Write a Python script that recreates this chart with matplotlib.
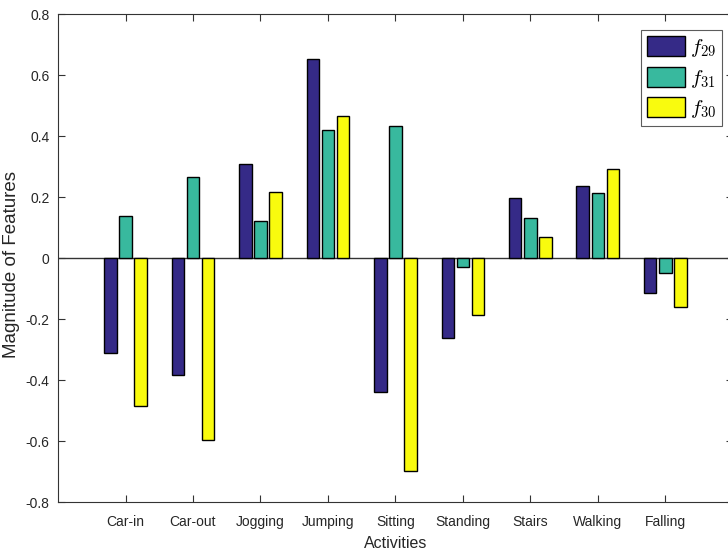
import matplotlib.pyplot as plt
import numpy as np

# Activities and per-feature magnitudes
activities = ["Car-in", "Car-out", "Jogging", "Jumping", "Sitting",
              "Standing", "Stairs", "Walking", "Falling"]
f29 = [-0.310, -0.385, 0.309, 0.651, -0.440, -0.263, 0.198, 0.235, -0.114]
f31 = [0.138, 0.266, 0.121, 0.419, 0.432, -0.030, 0.132, 0.213, -0.050]
f30 = [-0.486, -0.597, 0.217, 0.467, -0.698, -0.187, 0.070, 0.292, -0.160]

series = [
    (f29, r"$f_{29}$", "#352a87"),
    (f31, r"$f_{31}$", "#38b99e"),
    (f30, r"$f_{30}$", "#f9fb0e"),
]

plt.rcParams["font.family"] = ["Liberation Sans", "DejaVu Sans"]
plt.rcParams["mathtext.fontset"] = "cm"


def plot_features():
    fig = plt.figure(figsize=(7.28, 5.56), dpi=100)
    # right spine sits just beyond the canvas edge, like the reference
    ax = fig.add_axes([0.0797, 0.0971, 0.927, 0.8777])

    x = np.arange(1, len(activities) + 1)
    offsets = [-0.225, 0.0, 0.225]
    width = 0.185

    for (vals, label, color), off in zip(series, offsets):
        ax.bar(x + off, vals, width=width, color=color, edgecolor="black",
               linewidth=1.0, label=label, zorder=2)

    ax.axhline(0, color="#333333", linewidth=1.0, zorder=1)

    ax.set_xlim(0, 10)
    ax.set_ylim(-0.8, 0.8)
    ax.set_xticks(x)
    ax.set_xticklabels(activities, fontsize=10, color="#262626")
    ax.set_yticks(np.arange(-0.8, 0.81, 0.2))
    ax.set_yticklabels(["-0.8", "-0.6", "-0.4", "-0.2", "0", "0.2", "0.4", "0.6", "0.8"],
                       fontsize=10, color="#262626")
    ax.tick_params(direction="in", length=5, width=0.8, color="#333333",
                   top=True, right=True)
    ax.tick_params(axis="x", pad=9)
    ax.tick_params(axis="y", pad=6)
    for s in ax.spines.values():
        s.set_color("#333333")
        s.set_linewidth(0.8)

    ax.set_xlabel("Activities", fontsize=11.5, color="#262626")
    ax.xaxis.set_label_coords(0.5, -0.069)
    ax.set_ylabel("Magnitude of Features", fontsize=13.5, color="#262626")
    ax.yaxis.set_label_coords(-0.056, 0.486)

    leg = ax.legend(loc="upper right", bbox_to_anchor=(0.984, 0.967), fontsize=15,
                    frameon=True, fancybox=False, edgecolor="#333333",
                    handlelength=1.85, handleheight=1.1, handletextpad=0.2,
                    labelspacing=0.35, borderpad=0.3, borderaxespad=0.0)
    leg.get_frame().set_linewidth(0.8)

    fig.savefig("out.png", dpi=100)


if __name__ == "__main__":
    plot_features()
